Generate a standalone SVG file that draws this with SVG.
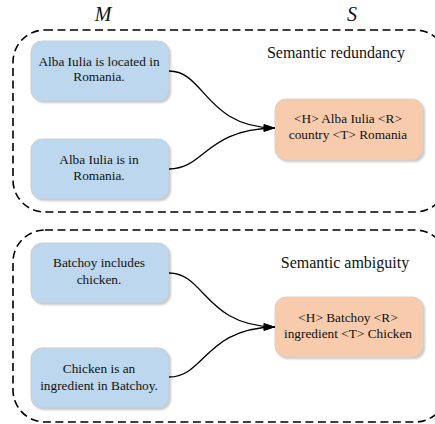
<svg xmlns="http://www.w3.org/2000/svg" width="435" height="424" viewBox="0 0 435 424">
<style>
.grp{fill:none;stroke:#000;stroke-width:1.6;stroke-dasharray:8 4.5}
.b{fill:#bdd7ee;stroke:#c9cdd3;stroke-width:1}
.o{fill:#f8cbad;stroke:#d6d0cc;stroke-width:1}
.sh{fill:#9a9a9a;opacity:0.55}
text{fill:#111;text-anchor:middle}
.t{font-size:13.3px}
.lbl{font-size:16px}
.h{font-size:20px;font-style:italic}
.c{fill:none;stroke:#000;stroke-width:1.3}
</style>
<defs>
<marker id="ah" markerWidth="12" markerHeight="8" refX="11.5" refY="4" orient="auto" markerUnits="userSpaceOnUse">
<path d="M0,0 L12,4 L0,8 Z" fill="#000"/>
</marker>
<filter id="blur" x="-10%" y="-10%" width="130%" height="130%"><feGaussianBlur stdDeviation="1.2"/></filter>
</defs>
<g font-family="'Liberation Serif', 'Times New Roman', serif">
<text class="h" x="103" y="21">M</text>
<text class="h" x="352" y="21">S</text>
<g id="group1">
<rect class="grp" x="13" y="30" width="434" height="182" rx="32"/>
<text class="lbl" x="336" y="58">Semantic redundancy</text>
</g>
<g id="group2">
<rect class="grp" x="13" y="230" width="434" height="192" rx="32"/>
<text class="lbl" x="345" y="268">Semantic ambiguity</text>
</g>
<g id="m1">
<rect class="sh" x="33" y="43" width="138" height="60" rx="11" filter="url(#blur)"/>
<rect class="b" x="31" y="41" width="138" height="60" rx="11"/>
<text class="t" x="99" y="66">Alba Iulia is located in</text>
<text class="t" x="99" y="81">Romania.</text>
</g>
<g id="m2">
<rect class="sh" x="33" y="141" width="138" height="60" rx="11" filter="url(#blur)"/>
<rect class="b" x="31" y="139" width="138" height="60" rx="11"/>
<text class="t" x="99" y="164">Alba Iulia is in</text>
<text class="t" x="99" y="180">Romania.</text>
</g>
<g id="s1">
<rect class="sh" x="277" y="101" width="148" height="61" rx="11" filter="url(#blur)"/>
<rect class="o" x="275" y="99" width="148" height="61" rx="11"/>
<text class="t" x="348" y="123">&lt;H&gt; Alba Iulia &lt;R&gt;</text>
<text class="t" x="348" y="139">country &lt;T&gt; Romania</text>
</g>
<g id="m3">
<rect class="sh" x="33" y="245" width="138" height="60" rx="11" filter="url(#blur)"/>
<rect class="b" x="31" y="243" width="138" height="60" rx="11"/>
<text class="t" x="99" y="267">Batchoy includes</text>
<text class="t" x="99" y="284">chicken.</text>
</g>
<g id="m4">
<rect class="sh" x="33" y="350" width="138" height="60" rx="11" filter="url(#blur)"/>
<rect class="b" x="31" y="348" width="138" height="60" rx="11"/>
<text class="t" x="99" y="373">Chicken is an</text>
<text class="t" x="99" y="390">ingredient in Batchoy.</text>
</g>
<g id="s2">
<rect class="sh" x="277" y="299" width="148" height="60" rx="11" filter="url(#blur)"/>
<rect class="o" x="275" y="297" width="148" height="60" rx="11"/>
<text class="t" x="348" y="322">&lt;H&gt; Batchoy &lt;R&gt;</text>
<text class="t" x="348" y="338">ingredient &lt;T&gt; Chicken</text>
</g>
</g>
<g id="connectors">
<path class="c" d="M169,71 C205,71 205,127 275,128" marker-end="url(#ah)"/>
<path class="c" d="M169,169 C205,169 205,129 275,128" marker-end="url(#ah)"/>
<path class="c" d="M169,273 C205,273 205,326 275,327" marker-end="url(#ah)"/>
<path class="c" d="M169,377 C205,377 205,328 275,327" marker-end="url(#ah)"/>
</g>
</svg>
